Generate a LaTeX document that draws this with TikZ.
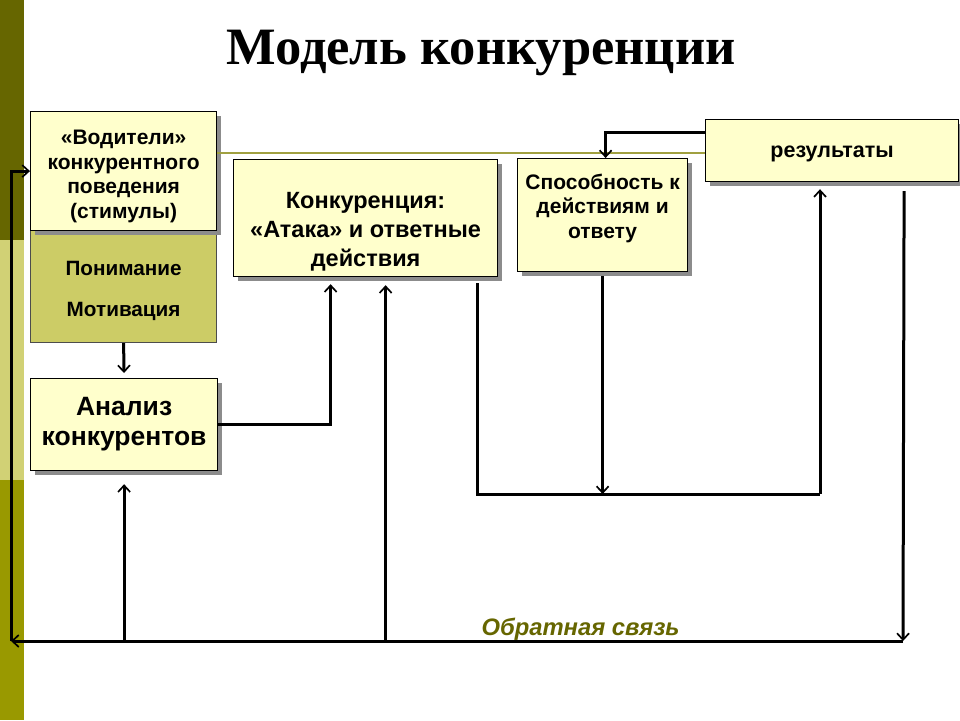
\documentclass[tikz,border=0pt]{standalone}
\usepackage{fontspec}
\setmainfont{Liberation Sans}
\newfontfamily\titlefont{Liberation Serif}
\usetikzlibrary{arrows.meta,shadows,calc}
\definecolor{paleyellow}{HTML}{FFFFCC}
\definecolor{olivepale}{HTML}{CCCC66}
\definecolor{olivedark}{HTML}{666600}
\definecolor{olivemid}{HTML}{999900}
\definecolor{oliveline}{HTML}{A0A040}
\tikzset{
  base_box/.style = {draw=black, line width=1.2pt, fill=paleyellow, align=center, anchor=north west, inner sep=0pt, font=\bfseries\fontsize{21}{24.5}\selectfont},
  box/.style = {base_box, drop shadow={shadow xshift=4pt, shadow yshift=-4pt, fill=black!45, opacity=1}},
  motive_box/.style = {base_box, draw=black!70, fill=olivepale, font=\bfseries\fontsize{20.7}{41}\selectfont},
  link/.style = {line width=3pt, -{Straight Barb[length=6.5pt,width=12pt,line width=1.7pt]}},
  plain_link/.style = {line width=3pt}
}

\begin{document}
\begin{tikzpicture}[x=1pt, y=-1pt]
  \useasboundingbox[fill=white] (0,0) rectangle (960,720);
  % side strip
  \fill[olivedark] (0,0) rectangle (24,240);
  \fill[olivepale!90!white] (0,240) rectangle (24,480);
  \fill[olivemid] (0,480) rectangle (24,720);

  \node[anchor=base, font=\titlefont\bfseries\fontsize{52.5}{55}\selectfont] (title) at (481,64) {Модель конкуренции};

  % boxes
  \node[motive_box, minimum width=186pt, minimum height=112pt] (motive) at (30,230) {\mbox{}\\[-18pt]Понимание\\Мотивация};
  \node[box, minimum width=186pt, minimum height=119pt] (drivers) at (30,111)
    {\mbox{}\\[0.5pt]«Водители»\\конкурентного\\поведения\\(стимулы)};
  \node[box, minimum width=187pt, minimum height=92pt, font=\bfseries\fontsize{26.5}{30}\selectfont] (analysis) at (30,378)
    {Анализ\\конкурентов};
  \node[box, minimum width=264pt, minimum height=117pt, font=\bfseries\fontsize{23.5}{29}\selectfont] (compete) at (233,159)
    {\mbox{}\\[15pt]Конкуренция:\\«Атака» и ответные\\действия};
  \node[box, minimum width=170pt, minimum height=113pt] (ability) at (517,158)
    {Способность к\\действиям и\\ответу\\[-6pt]};
  \node[box, minimum width=253pt, minimum height=62pt, font=\bfseries\fontsize{21.5}{24}\selectfont] (results) at (705,119) {\mbox{}\\[-6.7pt]результаты};

  \draw[oliveline, line width=2pt] (results.west -| drivers.east) ++(0,2) -- ($(results.west)+(0,2)$);

  % connectors
  \coordinate (fbR) at (903,641);
  \coordinate (fbL) at (11,641);
  \coordinate (loop) at (820,494);

  \draw[link, shorten >=5pt] (motive.south) -- (analysis.north);
  \draw[link, shorten >=7pt] (analysis.east) -| ([xshift=-35pt]compete.south);
  \draw[link] ([yshift=18pt]results.west) -| ([xshift=3pt]ability.north);
  \draw[plain_link] ([xshift=112pt,yshift=-6pt]compete.south) |- (loop);
  \draw[link, shorten >=7pt] (loop) -- (loop |- results.south);
  \draw[link] ([yshift=-4pt]ability.south) -- (ability.south |- loop);
  \draw[link] ([xshift=72pt,yshift=-9pt]results.south) -- (fbR);
  \draw[link] (fbR) -- (fbL);
  \draw[link] (fbL) |- (drivers.west);
  \draw[link, shorten >=13pt] (analysis.south |- fbL) -- (analysis.south);
  \draw[link, shorten >=8pt] ([xshift=20pt]compete.south |- fbL) -- ([xshift=20pt]compete.south);

  \node[anchor=base west, text=olivedark, font=\bfseries\itshape\fontsize{23.8}{26}\selectfont] (feedback) at (478,635) {Обратная связь};
\end{tikzpicture}
\end{document}
